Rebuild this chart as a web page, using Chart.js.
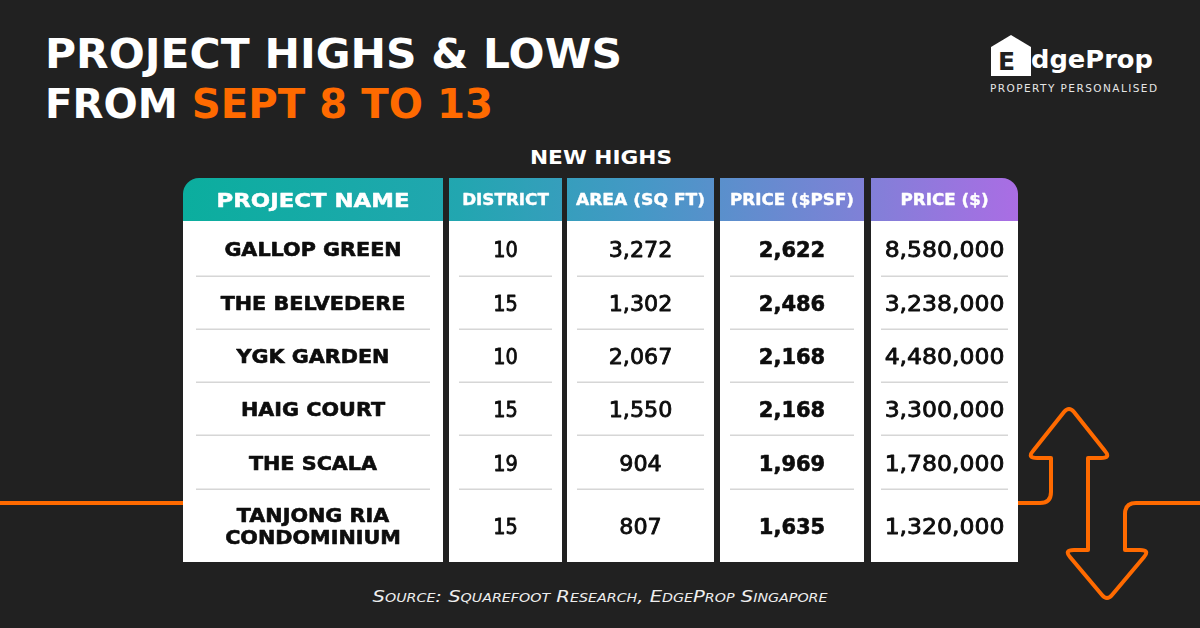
<!DOCTYPE html>
<html>
<head>
<meta charset="utf-8">
<script src="https://cdn.jsdelivr.net/npm/chart.js"></script>
<style>
  body { margin: 0; background: #212121; }
  #lienzo { position: relative; width: 1200px; height: 628px; overflow: hidden; background: #212121; }
  #fondo, #tabla { position: absolute; left: 0; top: 0; }
</style>
</head>
<body>
<div id="lienzo">
  <svg id="fondo" width="1200" height="628" xmlns="http://www.w3.org/2000/svg">
    <!-- linea naranja y flechas -->
    <g fill="none" stroke="#ff6a00" stroke-width="4" stroke-linejoin="round" stroke-linecap="round">
      <path d="M0,503 H190"/>
      <path d="M1015,503 H1040 Q1051,503 1051,492 V458 H1037 Q1027,458 1033,451 L1064,412 Q1069,406 1074,412 L1105,451 Q1111,458 1101,458 H1088 V550 H1074 Q1064,550 1070,557 L1102,595 Q1107,601 1112,595 L1144,557 Q1150,550 1140,550 H1125 V514 Q1125,503 1136,503 H1205"/>
    </g>
    <!-- titulo -->
    <text x="45" y="68" font-family="DejaVu Sans" font-weight="bold" font-size="41" fill="#ffffff"
          textLength="577" lengthAdjust="spacingAndGlyphs">PROJECT HIGHS &amp; LOWS</text>
    <text x="45" y="118" font-family="DejaVu Sans" font-weight="bold" font-size="41" fill="#ffffff"
          textLength="448" lengthAdjust="spacingAndGlyphs">FROM <tspan fill="#ff6a00">SEPT 8 TO 13</tspan></text>
    <!-- logo -->
    <polygon points="991,47 1011,35 1031,47 1031,76 991,76" fill="#ffffff"/>
    <text x="998" y="70" font-family="DejaVu Sans" font-weight="bold" font-size="25" fill="#212121">E</text>
    <text x="1031" y="68" font-family="DejaVu Sans" font-weight="bold" font-size="25" fill="#ffffff"
          textLength="122" lengthAdjust="spacingAndGlyphs">dgeProp</text>
    <text x="990" y="92" font-family="DejaVu Sans" font-size="10.5" fill="#e6e6e6"
          textLength="167" lengthAdjust="spacing">PROPERTY PERSONALISED</text>
    <!-- subtitulo -->
    <text x="601" y="164" text-anchor="middle" font-family="DejaVu Sans" font-weight="bold" font-size="20" fill="#ffffff"
          textLength="142" lengthAdjust="spacingAndGlyphs">NEW HIGHS</text>
    <!-- fuente -->
    <text x="600" y="602" text-anchor="middle" font-family="DejaVu Sans" font-style="italic" font-size="16.5"
          fill="#eeeeee" style="font-variant: small-caps" textLength="455" lengthAdjust="spacingAndGlyphs">Source: Squarefoot Research, EdgeProp Singapore</text>
  </svg>
  <canvas id="tabla" width="1200" height="628"></canvas>
</div>

<script>
// datos de la tabla
const encabezados = ["PROJECT NAME", "DISTRICT", "AREA (SQ FT)", "PRICE ($PSF)", "PRICE ($)"];
const proyectos = ["GALLOP GREEN", "THE BELVEDERE", "YGK GARDEN", "HAIG COURT", "THE SCALA", "TANJONG RIA CONDOMINIUM"];
const distritos = [10, 15, 10, 15, 19, 15];
const areas = [3272, 1302, 2067, 1550, 904, 807];
const preciosPsf = [2622, 2486, 2168, 2168, 1969, 1635];
const precios = [8580000, 3238000, 4480000, 3300000, 1780000, 1320000];

// disposicion (unidades de las escalas)
const colInicio = [0, 266, 384, 537, 688];
const colFin = [260, 379, 531, 681, 835];
const filaBordes = [0, 43, 98, 151, 204, 257, 311, 384];

const estiloCabecera = [
    { font: 'bold 20px "DejaVu Sans"', sx: 1.14, grosor: 0.5 },
    { font: 'bold 16px "DejaVu Sans"', sx: 1.05, grosor: 0.4 },
    { font: 'bold 16px "DejaVu Sans"', sx: 1.07, grosor: 0.4 },
    { font: 'bold 16px "DejaVu Sans"', sx: 1.05, grosor: 0.4 },
    { font: 'bold 16px "DejaVu Sans"', sx: 1.05, grosor: 0.4 }
];
const estiloCelda = [
    { font: 'bold 19px "DejaVu Sans"', sx: 1.09, cap: 19, grosor: 0.6 },
    { font: '21px "DejaVu Sans"', sx: 0.92, cap: 21, grosor: 0.8 },
    { font: '21px "DejaVu Sans"', sx: 1.06, cap: 21, grosor: 0.8 },
    { font: 'bold 21px "DejaVu Sans"', sx: 1.0, cap: 21, grosor: 0.6 },
    { font: '21px "DejaVu Sans"', sx: 1.12, cap: 21, grosor: 0.8 }
];

function formato(n) {
    return n.toLocaleString("en-US");
}

function columnas() {
    return [
        proyectos,
        distritos.map(String),
        areas.map(formato),
        preciosPsf.map(formato),
        precios.map(formato)
    ];
}

function texto(ctx, t, x, y, estilo) {
    ctx.save();
    ctx.font = estilo.font;
    ctx.translate(x, y);
    ctx.scale(estilo.sx, 1);
    ctx.textAlign = "center";
    ctx.textBaseline = "alphabetic";
    ctx.fillText(t, 0, 0);
    if (estilo.grosor) {
        ctx.strokeStyle = ctx.fillStyle;
        ctx.lineWidth = estilo.grosor;
        ctx.lineJoin = "round";
        ctx.strokeText(t, 0, 0);
    }
    ctx.restore();
}

function partirLineas(ctx, t, estilo, ancho) {
    ctx.save();
    ctx.font = estilo.font;
    const palabras = t.split(" ");
    const lineas = [];
    let actual = "";
    for (const p of palabras) {
        const prueba = actual ? actual + " " + p : p;
        if (ctx.measureText(prueba).width * estilo.sx > ancho && actual) {
            lineas.push(actual);
            actual = p;
        } else {
            actual = prueba;
        }
    }
    lineas.push(actual);
    ctx.restore();
    return lineas;
}

const tablaPlugin = {
    id: "tabla",
    afterDraw(chart) {
        const ctx = chart.ctx;
        const sx = chart.scales.x;
        const sy = chart.scales.y;
        const datos = columnas();

        // cabecera con degradado
        const grad = ctx.createLinearGradient(sx.getPixelForValue(0), 0, sx.getPixelForValue(835), 0);
        grad.addColorStop(0, "#0bae9e");
        grad.addColorStop(0.33, "#22a6b0");
        grad.addColorStop(0.55, "#4598c6");
        grad.addColorStop(0.8, "#7c82d6");
        grad.addColorStop(1, "#aa6de4");

        for (let c = 0; c < encabezados.length; c++) {
            const x0 = sx.getPixelForValue(colInicio[c]);
            const x1 = sx.getPixelForValue(colFin[c]);
            const yTop = sy.getPixelForValue(filaBordes[0]);
            const yCab = sy.getPixelForValue(filaBordes[1]);
            const yFin = sy.getPixelForValue(filaBordes[filaBordes.length - 1]);

            let radios = [0, 0, 0, 0];
            if (c === 0) radios = [16, 0, 0, 0];
            if (c === encabezados.length - 1) radios = [0, 16, 0, 0];

            ctx.fillStyle = grad;
            ctx.beginPath();
            ctx.roundRect(x0, yTop, x1 - x0, yCab - yTop, radios);
            ctx.fill();

            ctx.fillStyle = "#ffffff";
            ctx.fillRect(x0, yCab, x1 - x0, yFin - yCab);

            // texto cabecera
            ctx.fillStyle = "#ffffff";
            const est = estiloCabecera[c];
            const tam = parseFloat(est.font.match(/(\d+)px/)[1]);
            texto(ctx, encabezados[c], (x0 + x1) / 2, (yTop + yCab) / 2 + tam * 0.365, est);

            // separadores
            const margen = c === 0 ? 13 : 10;
            ctx.strokeStyle = "#d6d6d6";
            ctx.lineWidth = 1.5;
            for (let f = 2; f < filaBordes.length - 1; f++) {
                const y = Math.round(sy.getPixelForValue(filaBordes[f])) + 0.25;
                ctx.beginPath();
                ctx.moveTo(x0 + margen, y);
                ctx.lineTo(x1 - margen, y);
                ctx.stroke();
            }

            // celdas
            ctx.fillStyle = "#0d0d0d";
            const estC = estiloCelda[c];
            for (let f = 0; f < datos[c].length; f++) {
                const ya = sy.getPixelForValue(filaBordes[f + 1]);
                const yb = sy.getPixelForValue(filaBordes[f + 2]);
                const yc = (ya + yb) / 2 + 1;
                const lineas = partirLineas(ctx, datos[c][f], estC, x1 - x0 - 26);
                const alto = 22;
                const base = yc + estC.cap * 0.365 - (lineas.length - 1) * alto / 2;
                lineas.forEach((l, i) => texto(ctx, l, (x0 + x1) / 2, base + i * alto, estC));
            }
        }
    }
};

new Chart(document.getElementById("tabla"), {
    type: "scatter",
    data: { datasets: [] },
    options: {
        responsive: false,
        animation: false,
        devicePixelRatio: 1,
        layout: { padding: { left: 183, right: 182, top: 178, bottom: 66 } },
        scales: {
            x: { type: "linear", min: 0, max: 835, display: false },
            y: { type: "linear", min: 0, max: 384, reverse: true, display: false }
        },
        plugins: { legend: { display: false }, tooltip: { enabled: false } }
    },
    plugins: [tablaPlugin]
});
</script>
</body>
</html>
